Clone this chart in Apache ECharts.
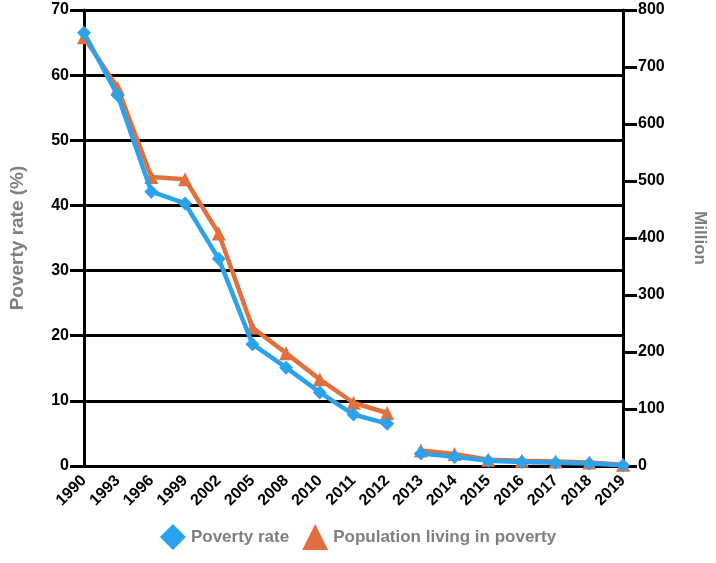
<!DOCTYPE html>
<html>
<head>
<meta charset="utf-8">
<script src="https://cdn.jsdelivr.net/npm/echarts@6/dist/echarts.min.js"></script>
<style>html,body{margin:0;padding:0;background:#fff}#c{width:716px;height:563px}</style>
</head>
<body>
<div id="c"></div>
<script>
const years = ['1990','1993','1996','1999','2002','2005','2008','2010','2011','2012','2013','2014','2015','2016','2017','2018','2019'];
const povertyRate = [66.5, 56.9, 42.1, 40.3, 31.8, 18.7, 15.1, 11.3, 7.9, 6.5, 1.9, 1.4, 0.8, 0.6, 0.5, 0.4, 0.1];
const populationMillion = [752, 663, 507, 503, 408, 243, 198, 152, 111, 93, 27, 21, 11, 9, 8, 6, 2];
const leftTicks = {min: 0, max: 70, interval: 10};
const rightTicks = {min: 0, max: 800, interval: 100};
const breakIndex = 10; // line is broken between 2012 and 2013

const BLUE = '#2aa2ee', ORANGE = '#e2703f';
const FONT = '"Liberation Sans", Arial, sans-serif';

function part(arr, first) {
  return arr.map((v, i) => (first ? (i < breakIndex ? v : null) : (i >= breakIndex ? v : null)));
}

const chart = echarts.init(document.getElementById('c'));
const lineBlue = {type: 'line', yAxisIndex: 0, name: 'Poverty rate', symbol: 'diamond', symbolSize: 14,
  itemStyle: {color: BLUE}, lineStyle: {color: BLUE, width: 4.5}, z: 3, connectNulls: false};
const lineOrange = {type: 'line', yAxisIndex: 1, name: 'Population living in poverty', symbol: 'triangle', symbolSize: 14,
  itemStyle: {color: ORANGE}, lineStyle: {color: ORANGE, width: 4.5}, z: 2, connectNulls: false};

chart.setOption({
  animation: false,
  textStyle: {fontFamily: FONT},
  grid: {left: 83, right: 91, top: 10, bottom: 97, containLabel: false},
  legend: {
    bottom: 8, left: 'center', itemWidth: 26, itemHeight: 26, itemGap: 13,
    textStyle: {color: '#7f7f7f', fontWeight: 'bold', fontSize: 17, fontFamily: FONT},
    data: [{name: 'Poverty rate', icon: 'diamond'}, {name: 'Population living in poverty', icon: 'triangle'}]
  },
  xAxis: {
    type: 'category', data: years, boundaryGap: false,
    axisLine: {lineStyle: {color: '#000', width: 3}},
    axisTick: {show: false},
    axisLabel: {rotate: 45, color: '#000', fontWeight: 'bold', fontSize: 16, margin: 12, interval: 0, fontFamily: FONT}
  },
  yAxis: [
    {
      type: 'value', position: 'left', min: leftTicks.min, max: leftTicks.max, interval: leftTicks.interval,
      name: 'Poverty rate (%)', nameLocation: 'middle', nameGap: 57, nameRotate: 90,
      nameTextStyle: {color: '#7f7f7f', fontWeight: 'bold', fontSize: 19, fontFamily: FONT},
      axisLine: {show: true, lineStyle: {color: '#000', width: 3}},
      axisTick: {show: true, length: 14, lineStyle: {color: '#000', width: 3}},
      axisLabel: {color: '#000', fontWeight: 'bold', fontSize: 16, margin: 15, fontFamily: FONT},
      splitLine: {show: true, lineStyle: {color: '#000', width: 3}}
    },
    {
      type: 'value', position: 'right', min: rightTicks.min, max: rightTicks.max, interval: rightTicks.interval,
      name: 'Million', nameLocation: 'middle', nameGap: 68, nameRotate: -90,
      nameTextStyle: {color: '#7f7f7f', fontWeight: 'bold', fontSize: 17, fontFamily: FONT},
      axisLine: {show: true, lineStyle: {color: '#000', width: 3}},
      axisTick: {show: true, length: 14, lineStyle: {color: '#000', width: 3}},
      axisLabel: {color: '#000', fontWeight: 'bold', fontSize: 16, margin: 15, fontFamily: FONT},
      splitLine: {show: false}
    }
  ],
  series: [
    Object.assign({}, lineOrange, {data: part(populationMillion, true)}),
    Object.assign({}, lineOrange, {data: part(populationMillion, false)}),
    Object.assign({}, lineBlue, {data: part(povertyRate, true)}),
    Object.assign({}, lineBlue, {data: part(povertyRate, false)})
  ]
});
</script>
</body>
</html>
